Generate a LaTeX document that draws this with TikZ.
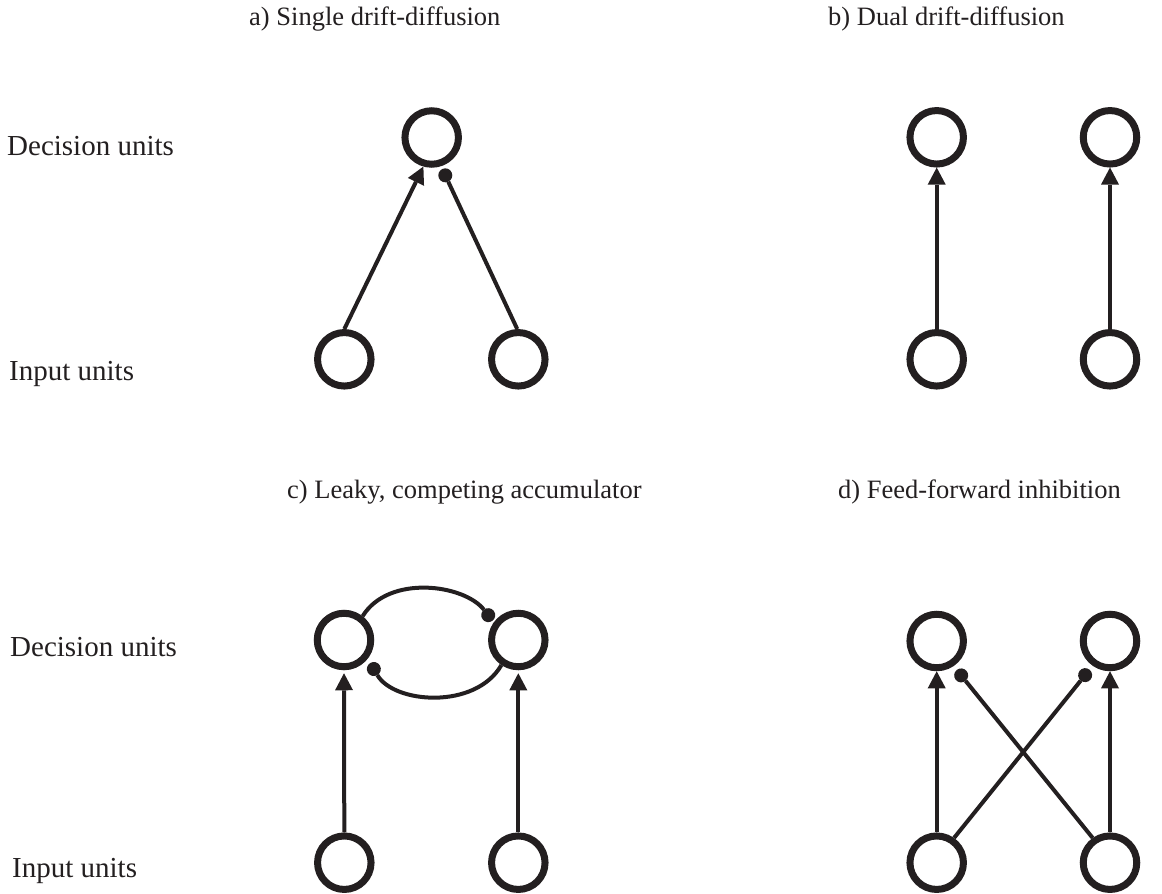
\documentclass[tikz,border=0pt]{standalone}
\usepackage{fontspec}
\setmainfont{Liberation Serif}
\usetikzlibrary{arrows.meta}
\definecolor{ink}{HTML}{231F20}
\begin{document}
\begin{tikzpicture}[x=1pt,y=-1pt,
  unit/.style={circle,draw=ink,line width=7pt,minimum size=53.5pt,inner sep=0pt},
  conn/.style={draw=ink,line width=4pt},
  exc/.style={conn,-{Triangle[length=17pt,width=18pt,line width=0pt]}},
  inh/.style={conn,-{Circle[length=14pt,width=14pt,line width=0pt]}},
  head/.style={anchor=base west,inner sep=0pt,font=\fontsize{26.5}{32}\selectfont,text=ink},
  lab/.style={anchor=base west,inner sep=0pt,font=\fontsize{29}{34}\selectfont,text=ink}]
\useasboundingbox (0,0) rectangle (1162,894);

% labels
\node[head] (ha) at (249,25) {a) Single drift-diffusion};
\node[head] (hb) at (828,25) {b) Dual drift-diffusion};
\node[head] (hc) at (287,498) {c) Leaky, competing accumulator};
\node[head] (hd) at (838,498) {d) Feed-forward inhibition};
\node[lab] (l1) at (7,155) {Decision units};
\node[lab] (l2) at (9,380) {Input units};
\node[lab] (l3) at (10,656) {Decision units};
\node[lab] (l4) at (12,877) {Input units};

% panel a
\node[unit] (aT) at (431.7,137.5) {};
\node[unit] (aL) at (344.3,359.3) {};
\node[unit] (aR) at (518.3,359.3) {};
\draw[exc] (aL.north) -- (aT.254);
\draw[inh,shorten >=3pt] (aR.92) -- (aT.288);

% panel b
\node[unit] (bT1) at (936.7,137.3) {};
\node[unit] (bT2) at (1110,137.3) {};
\node[unit] (bB1) at (936.7,359.3) {};
\node[unit] (bB2) at (1110,359.3) {};
\draw[exc] (bB1.north) -- (bT1.south);
\draw[exc] (bB2.north) -- (bT2.south);

% panel c
\node[unit] (cT1) at (344,640) {};
\node[unit] (cT2) at (518.3,640) {};
\node[unit] (cB1) at (344.3,862.7) {};
\node[unit] (cB2) at (518.3,862.7) {};
\draw[exc,shorten >=3pt] (cB1.north) -- (cT1.south);
\draw[exc,shorten >=3pt] (cB2.north) -- (cT2.south);
\draw[inh,shorten >=2pt] (cT1.52) .. controls +(26,-42) and +(-30,-38) .. (cT2.144);
\draw[inh,shorten >=5pt] (cT2.236) .. controls +(-26,45) and +(26,45) .. (cT1.322);

% panel d
\node[unit] (dT1) at (936.7,641) {};
\node[unit] (dT2) at (1110,641) {};
\node[unit] (dB1) at (936.7,862.7) {};
\node[unit] (dB2) at (1110,862.7) {};
\draw[exc] (dB1.north) -- (dT1.south);
\draw[exc] (dB2.north) -- (dT2.south);
\draw[inh,shorten >=5pt] (dB1.55) -- (dT2.235);
\draw[inh,shorten >=5pt] (dB2.125) -- (dT1.304);
\end{tikzpicture}
\end{document}
